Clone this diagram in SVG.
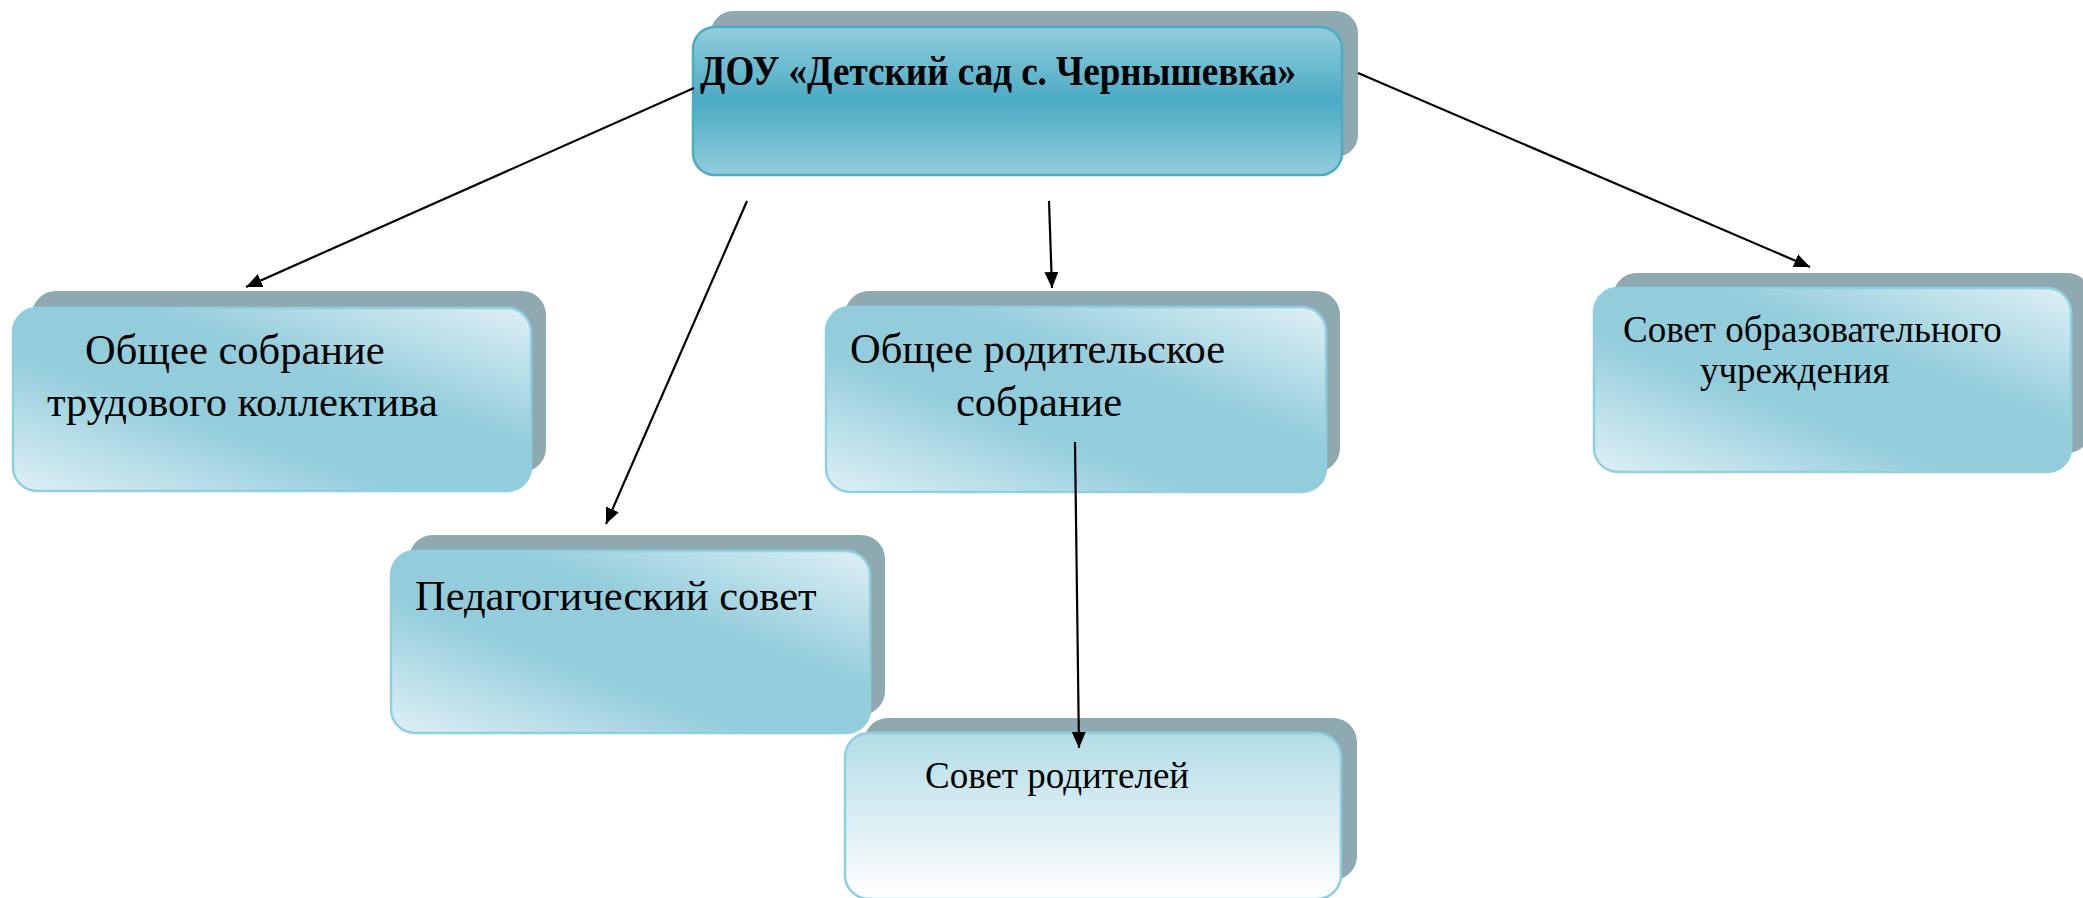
<svg xmlns="http://www.w3.org/2000/svg" width="2083" height="898" viewBox="0 0 2083 898">
  <style>
    .shadow { fill: #8fa9b1; }
    .card { fill: url(#cardGrad); stroke: #8fd0e0; stroke-width: 2.5; }
    .top { fill: url(#topGrad); stroke: #4bacc6; stroke-width: 2.5; }
    .bottomcard { fill: url(#whiteGrad); stroke: #8fd0e0; stroke-width: 2.5; }
    .lbl { font-family: "Liberation Serif", "Times New Roman", serif; fill: #000; }
    .big { font-size: 42.5px; }
    .small { font-size: 37px; }
    .conn { stroke: #000; stroke-width: 2.2; fill: none; marker-end: url(#arrow); }
  </style>
  <defs>
    <linearGradient id="topGrad" x1="0" y1="0" x2="0" y2="1">
      <stop offset="0" stop-color="#93cddc"/>
      <stop offset="0.5" stop-color="#4aabc5"/>
      <stop offset="1" stop-color="#93cddc"/>
    </linearGradient>
    <linearGradient id="cardGrad" x1="0" y1="1" x2="1" y2="0">
      <stop offset="0" stop-color="#dff0f5"/>
      <stop offset="0.38" stop-color="#93cddc"/>
      <stop offset="0.62" stop-color="#93cddc"/>
      <stop offset="1" stop-color="#dff0f5"/>
    </linearGradient>
    <linearGradient id="whiteGrad" x1="0" y1="0" x2="0" y2="1">
      <stop offset="0" stop-color="#b3dce7"/>
      <stop offset="1" stop-color="#ffffff"/>
    </linearGradient>
    <marker id="arrow" markerUnits="userSpaceOnUse" markerWidth="18" markerHeight="14" refX="16" refY="7" orient="auto">
      <path d="M0,0 L16,7 L0,14 z" fill="#000"/>
    </marker>
  </defs>

  <g id="node-dou">
    <rect class="shadow" x="711" y="11" width="647" height="146" rx="22"/>
    <rect class="top" x="693" y="27" width="649" height="148" rx="22"/>
    <text class="lbl" x="700" y="85" font-size="42" font-weight="bold" textLength="596" lengthAdjust="spacingAndGlyphs">ДОУ «Детский сад с. Чернышевка»</text>
  </g>

  <g id="node-obshchee-sobranie">
    <rect class="shadow" x="32" y="291" width="514" height="181" rx="24"/>
    <rect class="card" x="13" y="308" width="518" height="183" rx="24"/>
    <text class="lbl big" x="85" y="364">Общее собрание</text>
    <text class="lbl big" x="47" y="416">трудового коллектива</text>
  </g>

  <g id="node-pedsovet">
    <rect class="shadow" x="409" y="535" width="476" height="180" rx="24"/>
    <rect class="card" x="391" y="551" width="479" height="182" rx="24"/>
    <text class="lbl big" x="415" y="610">Педагогический совет</text>
  </g>

  <g id="node-roditelskoe-sobranie">
    <rect class="shadow" x="845" y="291" width="495" height="181" rx="24"/>
    <rect class="card" x="826" y="307" width="500" height="185" rx="24"/>
    <text class="lbl big" x="850" y="363">Общее родительское</text>
    <text class="lbl big" x="956" y="416">собрание</text>
  </g>

  <g id="node-sovet-uchrezhdeniya">
    <rect class="shadow" x="1613" y="273" width="478" height="180" rx="24"/>
    <rect class="card" x="1594" y="288" width="477" height="184" rx="24"/>
    <text class="lbl small" x="1623" y="342">Совет образовательного</text>
    <text class="lbl small" x="1700" y="383">учреждения</text>
  </g>

  <g id="node-sovet-roditeley">
    <rect class="shadow" x="864" y="718" width="493" height="162" rx="24"/>
    <rect class="bottomcard" x="845" y="733" width="496" height="166" rx="24"/>
    <text class="lbl small" x="925" y="788">Совет родителей</text>
  </g>

  <g id="connectors">
    <line class="conn" x1="694" y1="88" x2="246" y2="287"/>
    <line class="conn" x1="747" y1="201" x2="606" y2="524"/>
    <line class="conn" x1="1049" y1="201" x2="1052" y2="288"/>
    <line class="conn" x1="1358" y1="73" x2="1810" y2="267"/>
    <line class="conn" x1="1075" y1="442" x2="1079" y2="748"/>
  </g>
</svg>
